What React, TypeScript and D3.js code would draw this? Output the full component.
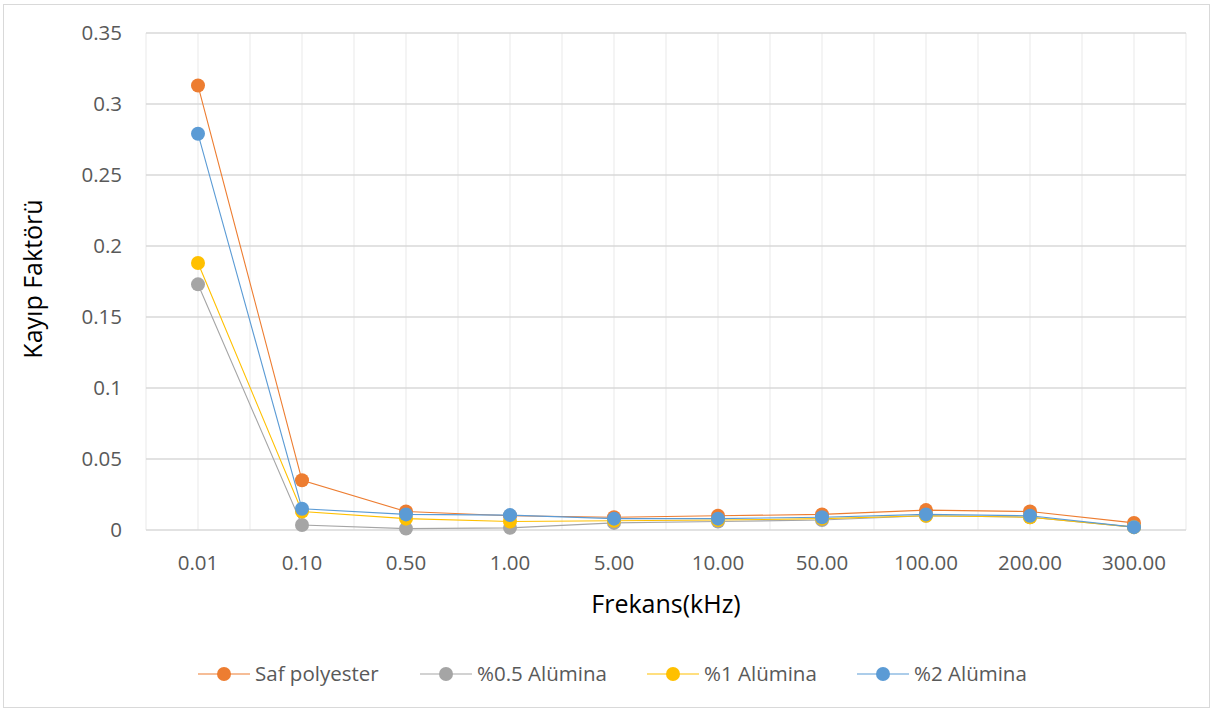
import React from "react";
import * as d3 from "d3";

const categories = ["0.01", "0.10", "0.50", "1.00", "5.00", "10.00", "50.00", "100.00", "200.00", "300.00"];
const safPolyester = [0.313, 0.035, 0.013, 0.010, 0.009, 0.010, 0.011, 0.014, 0.013, 0.005];
const alumina05 = [0.173, 0.0035, 0.001, 0.0015, 0.005, 0.006, 0.007, 0.010, 0.009, 0.002];
const alumina1 = [0.188, 0.013, 0.008, 0.006, 0.0065, 0.007, 0.008, 0.010, 0.009, 0.002];
const alumina2 = [0.279, 0.015, 0.011, 0.0105, 0.008, 0.008, 0.009, 0.011, 0.010, 0.002];
const yTicks = [0, 0.05, 0.1, 0.15, 0.2, 0.25, 0.3, 0.35];
const yTickLabels = ["0", "0.05", "0.1", "0.15", "0.2", "0.25", "0.3", "0.35"];
const seriesNames = ["Saf polyester", "%0.5 Alümina", "%1 Alümina", "%2 Alümina"];
const seriesColors = ["#ED7D31", "#A5A5A5", "#FFC000", "#5B9BD5"];

const W = 1214;
const H = 713;
const plotLeft = 146;
const plotRight = 1186;
const plotTop = 33;
const plotBottom = 530;
const FONT = "'Open Sans', 'Liberation Sans', sans-serif";

export default function App() {
  const series = [safPolyester, alumina05, alumina1, alumina2];
  const x = d3.scaleBand<string>().domain(categories).range([plotLeft, plotRight]).padding(0);
  const y = d3.scaleLinear().domain([0, 0.35]).range([plotBottom, plotTop]);
  const cx = (c: string) => (x(c) as number) + x.bandwidth() / 2;
  const line = d3
    .line<number>()
    .x((_, i) => cx(categories[i]))
    .y((d) => y(d));

  const vLines: number[] = [];
  categories.forEach((c) => {
    vLines.push(x(c) as number);
    vLines.push(cx(c));
  });
  vLines.push(plotRight);

  const legendX = [198, 420, 647, 857];
  const legendY = 674;

  return (
    <svg
      width={W}
      height={H}
      style={{ position: "absolute", left: 0, top: 0, background: "#fff" }}
      fontFamily={FONT}
    >
      <rect x={0} y={0} width={W} height={H} fill="#fff" />
      <rect x={3.5} y={4.5} width={1206} height={703} fill="#fff" stroke="#D9D9D9" strokeWidth={1} />

      {vLines.map((v, i) => (
        <line key={"v" + i} x1={v} x2={v} y1={plotTop} y2={plotBottom} stroke="#EEEEEE" strokeWidth={1.3} />
      ))}
      {yTicks.map((t, i) => (
        <line
          key={"h" + i}
          x1={plotLeft}
          x2={plotRight}
          y1={y(t)}
          y2={y(t)}
          stroke="#D9D9D9"
          strokeWidth={1.3}
        />
      ))}

      {yTicks.map((t, i) => (
        <text
          key={"yl" + i}
          x={122}
          y={y(t)}
          dy="0.36em"
          textAnchor="end"
          fontSize={20.5}
          fill="#595959"
        >
          {yTickLabels[i]}
        </text>
      ))}
      {categories.map((c) => (
        <text key={"xl" + c} x={cx(c)} y={563} dy="0.36em" textAnchor="middle" fontSize={20.5} fill="#595959">
          {c}
        </text>
      ))}

      <text x={666} y={604} dy="0.36em" textAnchor="middle" fontSize={25} fill="#000">
        Frekans(kHz)
      </text>
      <text
        transform={`translate(33,279) rotate(-90)`}
        dy="0.36em"
        textAnchor="middle"
        fontSize={25}
        fill="#000"
      >
        Kayıp Faktörü
      </text>

      {series.map((s, si) => (
        <g key={"s" + si}>
          <path d={line(s) as string} fill="none" stroke={seriesColors[si]} strokeWidth={1.1} />
          {s.map((v, i) => (
            <circle key={i} cx={cx(categories[i])} cy={y(v)} r={7} fill={seriesColors[si]} />
          ))}
        </g>
      ))}

      {seriesNames.map((n, i) => (
        <g key={"lg" + i}>
          <line
            x1={legendX[i]}
            x2={legendX[i] + 52}
            y1={legendY}
            y2={legendY}
            stroke={seriesColors[i]}
            strokeWidth={1.1}
          />
          <circle cx={legendX[i] + 26} cy={legendY} r={7} fill={seriesColors[i]} />
          <text x={legendX[i] + 57} y={legendY} dy="0.36em" fontSize={20.5} fill="#595959">
            {n}
          </text>
        </g>
      ))}
    </svg>
  );
}
